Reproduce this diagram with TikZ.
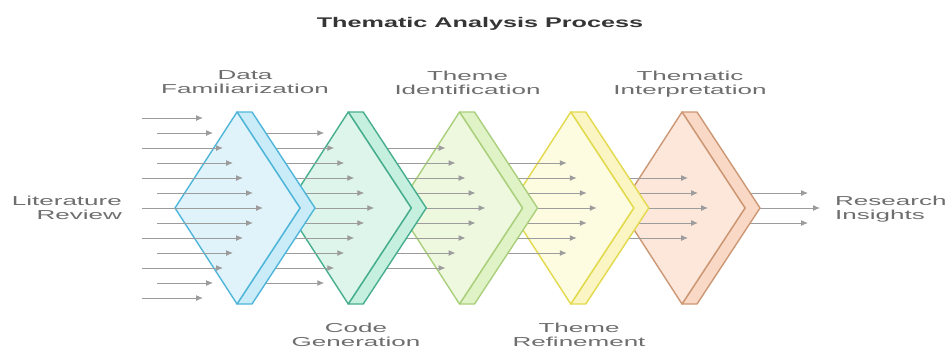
\documentclass[tikz,border=0pt]{standalone}
\usepackage{fontspec}
\setmainfont{Liberation Sans}
\newfontfamily\lblfont[FakeStretch=2.0]{Liberation Sans}
\newfontfamily\ttlfont[FakeStretch=1.8]{Liberation Sans}
\usetikzlibrary{arrows.meta}
\definecolor{bS}{HTML}{4FB6DA}\definecolor{bF}{HTML}{E1F3FA}\definecolor{bB}{HTML}{C9ECF8}
\definecolor{tS}{HTML}{46AE8E}\definecolor{tF}{HTML}{DDF5EA}\definecolor{tB}{HTML}{C5EFDF}
\definecolor{gS}{HTML}{AACF7C}\definecolor{gF}{HTML}{EEF8DE}\definecolor{gB}{HTML}{E0F3C6}
\definecolor{yS}{HTML}{E2DA4C}\definecolor{yF}{HTML}{FDFBE0}\definecolor{yB}{HTML}{FAF5C2}
\definecolor{oS}{HTML}{CC9774}\definecolor{oF}{HTML}{FCE7DA}\definecolor{oB}{HTML}{F9D9C5}
\definecolor{arrC}{HTML}{9C9C9C}
\definecolor{lblC}{HTML}{6E6E6E}
\definecolor{ttlC}{HTML}{353535}
\newcommand\mychev[4]{%
  \filldraw[draw=#2, fill=#4, line width=1.4pt, line join=round]
    ({#1},112) -- ({#1+15},112) -- ({#1+78},208) -- ({#1+15},304) -- ({#1},304) -- ({#1+63},208) -- cycle;
  \filldraw[draw=#2, fill=#3, line width=1.4pt, line join=round]
    ({#1-62},208) -- ({#1},112) -- ({#1+63},208) -- ({#1},304) -- cycle;
}
\begin{document}
\begin{tikzpicture}[x=1pt,y=-1pt,
  arr/.style={draw=arrC, line width=1pt, -{Latex[length=7pt,width=6pt]}},
  lbl/.style={font=\lblfont\fontsize{13}{14}\selectfont, text=lblC, inner sep=0pt, align=center},
  ttl/.style={font=\ttlfont\bfseries\fontsize{14}{16}\selectfont, text=ttlC, inner sep=0pt}]
\useasboundingbox (0,0) rectangle (950,349);
\fill[white] (0,0) rectangle (950,349);
% output arrows
\foreach \j in {-1,0,1}
  \draw[arr] (700,{208+15*\j}) -- ({820-12*abs(\j)},{208+15*\j});
\mychev{682}{oS}{oF}{oB}
\foreach \j in {-2,...,2}
  \draw[arr] (570.75,{208+15*\j}) -- ({708-10*abs(\j)},{208+15*\j});
\mychev{570.75}{yS}{yF}{yB}
\foreach \j in {-3,...,3}
  \draw[arr] (459.5,{208+15*\j}) -- ({596.75-10*abs(\j)},{208+15*\j});
\mychev{459.5}{gS}{gF}{gB}
\foreach \j in {-4,...,4}
  \draw[arr] (348.25,{208+15*\j}) -- ({485.5-10*abs(\j)},{208+15*\j});
\mychev{348.25}{tS}{tF}{tB}
\foreach \j in {-5,...,5}
  \draw[arr] (237,{208+15*\j}) -- ({374.25-10*abs(\j)},{208+15*\j});
\mychev{237}{bS}{bF}{bB}
\foreach \j in {-6,...,6}
  \draw[arr] ({142+15*mod(abs(\j),2)},{208+15*\j}) -- ({263-10*abs(\j)},{208+15*\j});
% labels
\node[ttl, anchor=base] (title) at (480,27) {Thematic Analysis Process};
\node[lbl, anchor=north] (fam) at (245,70.5) {Data\\Familiarization};
\node[lbl, anchor=north] (ident) at (467.5,70.5) {Theme\\Identification};
\node[lbl, anchor=north] (interp) at (690,70.5) {Thematic\\Interpretation};
\node[lbl, anchor=north] (code) at (356,322.5) {Code\\Generation};
\node[lbl, anchor=north] (refine) at (579,322.5) {Theme\\Refinement};
\node[lbl, anchor=north east, align=right] (lit) at (122,195.5) {Literature\\Review};
\node[lbl, anchor=north west, align=left] (res) at (835,195.5) {Research\\Insights};
\end{tikzpicture}
\end{document}
